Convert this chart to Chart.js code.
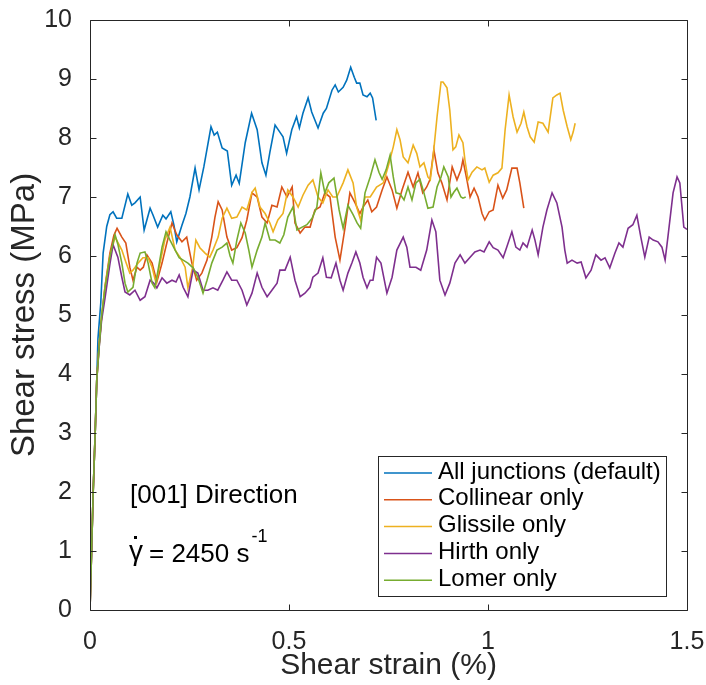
<!DOCTYPE html>
<html lang="en">
<head>
    <meta charset="UTF-8">
    <title>Shear stress vs shear strain</title>
    <style>
        body {
            margin: 0;
            background-color: #ffffff;
        }
        #chart {
            display: block;
        }
    </style>
</head>
<body>
<canvas id="chart" width="706" height="685"></canvas>

<script src="https://cdn.jsdelivr.net/npm/chart.js"></script>
<script>
    // values: [shear strain (%), shear stress (MPa)]
    const allJunctions = [
        [0, 0], [0.004, 1.0], [0.008, 2.0], [0.013, 3.0], [0.017, 3.9], [0.02, 4.6], [0.027, 5.2], [0.033, 6.05],
        [0.042, 6.5], [0.05, 6.7], [0.058, 6.75], [0.067, 6.64], [0.08, 6.64], [0.095, 7.05], [0.105, 6.86],
        [0.113, 6.9], [0.126, 7.0], [0.136, 6.44], [0.151, 6.81], [0.158, 6.7], [0.17, 6.49], [0.183, 6.69],
        [0.191, 6.63], [0.203, 6.75], [0.211, 6.52], [0.218, 6.24], [0.231, 6.52], [0.241, 6.72], [0.251, 7.0],
        [0.264, 7.49], [0.274, 7.12], [0.286, 7.51], [0.304, 8.19], [0.312, 8.05], [0.32, 8.1], [0.332, 7.83],
        [0.345, 7.78], [0.356, 7.2], [0.367, 7.37], [0.375, 7.23], [0.39, 7.92], [0.406, 8.42], [0.42, 8.14],
        [0.432, 7.58], [0.442, 7.37], [0.452, 7.76], [0.465, 8.22], [0.477, 8.1], [0.485, 8.02], [0.494, 7.74],
        [0.507, 8.14], [0.519, 8.36], [0.526, 8.17], [0.535, 8.42], [0.548, 8.68], [0.557, 8.44], [0.573, 8.17],
        [0.586, 8.42], [0.594, 8.5], [0.608, 8.81], [0.616, 8.9], [0.624, 8.78], [0.636, 8.86], [0.645, 8.98],
        [0.655, 9.2], [0.664, 9.03], [0.67, 8.93], [0.678, 8.93], [0.686, 8.73], [0.696, 8.7], [0.704, 8.76],
        [0.71, 8.68], [0.719, 8.3]
    ];
    const collinearOnly = [
        [0, 0], [0.004, 1.0], [0.008, 2.0], [0.013, 3.0], [0.017, 3.9], [0.023, 4.5], [0.029, 4.95], [0.038, 5.5],
        [0.05, 6.05], [0.06, 6.35], [0.068, 6.47], [0.08, 6.32], [0.09, 6.22], [0.1, 5.81], [0.108, 5.59],
        [0.118, 5.81], [0.126, 5.76], [0.134, 5.81], [0.143, 6.02], [0.156, 5.88], [0.168, 5.56], [0.181, 5.88],
        [0.193, 6.22], [0.206, 6.56], [0.218, 6.36], [0.231, 6.24], [0.243, 6.32], [0.256, 5.88], [0.268, 5.59],
        [0.281, 5.71], [0.294, 5.93], [0.306, 6.32], [0.314, 6.66], [0.322, 6.92], [0.332, 6.78], [0.344, 6.32],
        [0.356, 6.1], [0.369, 6.14], [0.382, 6.31], [0.394, 6.61], [0.407, 7.07], [0.42, 7.0], [0.432, 6.66],
        [0.445, 6.56], [0.457, 6.86], [0.47, 6.83], [0.482, 7.17], [0.495, 7.0], [0.508, 7.17], [0.515, 6.56],
        [0.528, 6.39], [0.54, 6.49], [0.553, 6.49], [0.565, 6.78], [0.578, 6.83], [0.59, 7.07], [0.603, 7.0],
        [0.616, 6.32], [0.628, 5.93], [0.641, 6.49], [0.653, 7.07], [0.666, 6.9], [0.678, 6.72], [0.686, 6.83],
        [0.698, 6.95], [0.708, 6.75], [0.72, 6.83], [0.734, 7.12], [0.746, 7.34], [0.759, 7.12], [0.771, 6.81],
        [0.784, 7.12], [0.799, 7.42], [0.812, 7.17], [0.824, 7.41], [0.836, 7.07], [0.846, 7.17], [0.854, 7.29],
        [0.864, 7.8], [0.874, 7.41], [0.884, 7.24], [0.897, 6.95], [0.91, 7.51], [0.922, 7.29], [0.932, 7.46],
        [0.937, 7.63], [0.947, 7.29], [0.955, 7.0], [0.965, 7.15], [0.975, 7.0], [0.985, 6.72], [0.992, 6.61],
        [1.003, 6.75], [1.013, 6.78], [1.025, 7.2], [1.037, 6.98], [1.047, 7.12], [1.06, 7.49], [1.073, 7.49],
        [1.08, 7.24], [1.09, 6.81]
    ];
    const glissileOnly = [
        [0, 0], [0.004, 1.0], [0.008, 2.0], [0.013, 3.0], [0.017, 3.9], [0.023, 4.5], [0.029, 4.95], [0.038, 5.5],
        [0.05, 6.0], [0.063, 6.32], [0.08, 6.1], [0.09, 5.9], [0.1, 5.71], [0.108, 5.76], [0.121, 5.88],
        [0.133, 5.97], [0.146, 5.97], [0.156, 5.81], [0.166, 5.54], [0.176, 5.88], [0.188, 6.27], [0.201, 6.49],
        [0.214, 6.1], [0.226, 5.98], [0.239, 5.81], [0.246, 5.46], [0.258, 5.81], [0.266, 6.27], [0.276, 6.14],
        [0.289, 6.05], [0.301, 5.98], [0.309, 6.1], [0.322, 6.32], [0.332, 6.64], [0.344, 6.81], [0.356, 6.64],
        [0.369, 6.66], [0.382, 6.83], [0.394, 6.78], [0.407, 7.08], [0.415, 7.15], [0.427, 6.83], [0.44, 6.72],
        [0.452, 6.56], [0.46, 6.41], [0.472, 6.61], [0.485, 6.72], [0.497, 7.12], [0.51, 7.0], [0.523, 6.83],
        [0.535, 7.03], [0.548, 7.2], [0.56, 7.29], [0.573, 7.0], [0.585, 6.9], [0.598, 7.12], [0.61, 7.0],
        [0.62, 7.0], [0.636, 7.24], [0.648, 7.46], [0.661, 7.24], [0.67, 6.83], [0.68, 6.61], [0.691, 7.0],
        [0.704, 7.0], [0.72, 7.17], [0.737, 7.24], [0.749, 7.51], [0.762, 7.85], [0.771, 8.14], [0.779, 7.97],
        [0.787, 7.68], [0.799, 7.58], [0.812, 7.88], [0.821, 7.74], [0.829, 7.51], [0.839, 7.58], [0.849, 7.34],
        [0.855, 7.29], [0.862, 7.68], [0.872, 8.36], [0.882, 8.95], [0.887, 8.95], [0.897, 8.85], [0.904, 8.47],
        [0.912, 7.8], [0.919, 7.85], [0.927, 8.05], [0.937, 7.92], [0.942, 7.63], [0.95, 7.29], [0.96, 7.42],
        [0.972, 7.51], [0.985, 7.46], [0.992, 7.49], [1.003, 7.25], [1.013, 7.37], [1.025, 7.41], [1.035, 7.49],
        [1.043, 8.14], [1.053, 8.73], [1.063, 8.36], [1.073, 8.1], [1.083, 8.25], [1.09, 8.44], [1.098, 8.19],
        [1.106, 8.02], [1.116, 7.93], [1.126, 8.27], [1.138, 8.25], [1.151, 8.1], [1.163, 8.68], [1.173, 8.73],
        [1.181, 8.76], [1.189, 8.47], [1.199, 8.19], [1.208, 7.97], [1.214, 8.1], [1.219, 8.25]
    ];
    const hirthOnly = [
        [0, 0], [0.004, 1.0], [0.008, 2.0], [0.013, 3.0], [0.017, 3.9], [0.023, 4.45], [0.029, 4.9], [0.038, 5.3],
        [0.05, 5.86], [0.058, 6.19], [0.07, 5.98], [0.08, 5.64], [0.088, 5.39], [0.1, 5.34], [0.113, 5.42],
        [0.126, 5.25], [0.138, 5.31], [0.151, 5.59], [0.16, 5.54], [0.168, 5.46], [0.181, 5.63], [0.193, 5.54],
        [0.206, 5.59], [0.216, 5.56], [0.224, 5.68], [0.234, 5.47], [0.246, 5.31], [0.259, 5.76], [0.271, 5.71],
        [0.284, 5.42], [0.296, 5.42], [0.309, 5.46], [0.321, 5.42], [0.334, 5.59], [0.344, 5.73], [0.356, 5.59],
        [0.369, 5.59], [0.382, 5.42], [0.394, 5.17], [0.407, 5.37], [0.42, 5.71], [0.432, 5.47], [0.445, 5.31],
        [0.457, 5.42], [0.47, 5.54], [0.477, 5.76], [0.49, 5.76], [0.503, 5.98], [0.515, 5.59], [0.528, 5.31],
        [0.54, 5.37], [0.553, 5.47], [0.56, 5.64], [0.573, 5.71], [0.585, 5.97], [0.594, 5.64], [0.606, 5.63],
        [0.618, 5.88], [0.628, 5.59], [0.636, 5.42], [0.648, 5.71], [0.658, 5.88], [0.668, 6.07], [0.678, 5.88],
        [0.686, 5.64], [0.696, 5.46], [0.704, 5.59], [0.711, 5.59], [0.72, 5.98], [0.731, 5.88], [0.746, 5.37],
        [0.759, 5.64], [0.771, 6.1], [0.787, 6.32], [0.796, 6.15], [0.804, 5.81], [0.819, 5.81], [0.831, 5.76],
        [0.846, 6.1], [0.859, 6.61], [0.869, 6.41], [0.879, 5.59], [0.892, 5.34], [0.904, 5.54], [0.917, 5.88],
        [0.93, 6.02], [0.942, 5.88], [0.955, 5.98], [0.967, 6.07], [0.98, 6.1], [0.99, 6.07], [1.003, 6.24],
        [1.013, 6.14], [1.025, 6.1], [1.038, 5.97], [1.047, 6.15], [1.06, 6.41], [1.07, 6.15], [1.08, 6.1],
        [1.088, 6.22], [1.098, 6.15], [1.111, 6.44], [1.118, 6.27], [1.126, 6.02], [1.138, 6.49], [1.148, 6.78],
        [1.161, 7.07], [1.173, 6.9], [1.186, 6.49], [1.193, 6.1], [1.199, 5.88], [1.211, 5.93], [1.224, 5.88],
        [1.234, 5.9], [1.246, 5.63], [1.259, 5.76], [1.271, 6.02], [1.284, 5.93], [1.294, 5.97], [1.306, 5.8],
        [1.319, 6.05], [1.329, 6.22], [1.339, 6.15], [1.352, 6.47], [1.364, 6.53], [1.374, 6.69], [1.384, 6.32],
        [1.394, 5.98], [1.405, 6.32], [1.415, 6.27], [1.427, 6.24], [1.437, 6.15], [1.445, 5.93], [1.452, 6.32],
        [1.465, 7.07], [1.475, 7.34], [1.482, 7.24], [1.492, 6.49], [1.5, 6.45]
    ];
    const lomerOnly = [
        [0, 0], [0.004, 1.0], [0.008, 2.0], [0.013, 3.0], [0.017, 3.9], [0.023, 4.46], [0.029, 4.97], [0.038, 5.47],
        [0.05, 5.98], [0.058, 6.22], [0.063, 6.36], [0.07, 6.2], [0.08, 5.88], [0.088, 5.54], [0.095, 5.39],
        [0.108, 5.47], [0.118, 5.88], [0.126, 6.05], [0.138, 6.07], [0.146, 5.88], [0.156, 5.54], [0.163, 5.46],
        [0.171, 5.76], [0.181, 6.15], [0.191, 6.41], [0.201, 6.27], [0.214, 6.1], [0.224, 5.97], [0.234, 5.93],
        [0.246, 5.88], [0.259, 5.8], [0.271, 5.64], [0.284, 5.37], [0.294, 5.59], [0.306, 5.88], [0.319, 6.1],
        [0.332, 6.15], [0.344, 6.22], [0.352, 6.0], [0.359, 5.88], [0.369, 6.27], [0.379, 6.56], [0.39, 6.39],
        [0.399, 6.1], [0.407, 5.81], [0.42, 6.1], [0.432, 6.32], [0.44, 6.56], [0.452, 6.27], [0.465, 6.27],
        [0.477, 6.22], [0.487, 6.36], [0.497, 6.66], [0.51, 6.83], [0.52, 6.44], [0.533, 6.49], [0.545, 6.53],
        [0.558, 6.64], [0.57, 6.83], [0.58, 7.41], [0.59, 7.07], [0.6, 7.24], [0.613, 7.32], [0.626, 6.78],
        [0.636, 6.47], [0.648, 6.86], [0.661, 6.7], [0.671, 6.56], [0.68, 6.47], [0.691, 7.07], [0.704, 7.34],
        [0.716, 7.63], [0.726, 7.42], [0.734, 7.3], [0.744, 7.46], [0.754, 7.71], [0.762, 7.34], [0.769, 7.07],
        [0.779, 7.05], [0.789, 6.95], [0.799, 7.17], [0.809, 6.95], [0.819, 7.24], [0.829, 7.3], [0.839, 7.07],
        [0.849, 6.81], [0.862, 6.83], [0.872, 7.17], [0.882, 7.34], [0.889, 7.51], [0.9, 7.34], [0.907, 7.0],
        [0.914, 7.08], [0.922, 7.15], [0.932, 7.0], [0.937, 6.98], [0.944, 7.0]
    ];

    const seriesNames = ['All junctions (default)', 'Collinear only', 'Glissile only', 'Hirth only', 'Lomer only'];
    const seriesData = [allJunctions, collinearOnly, glissileOnly, hirthOnly, lomerOnly];
    const seriesColors = ['#0072BD', '#D95319', '#EDB120', '#7E2F8E', '#77AC30'];

    const xTicks = [0, 0.5, 1, 1.5];
    const yTicks = [0, 1, 2, 3, 4, 5, 6, 7, 8, 9, 10];
    const xTitle = 'Shear strain (%)';
    const yTitle = 'Shear stress (MPa)';
    const noteDirection = '[001] Direction';
    const noteRate = '= 2450 s';

    const fontFamily = '"Liberation Sans", Arial, Helvetica, sans-serif';
    const axisColor = '#262626';

    // box, inward ticks, legend and text notes drawn on top of the lines
    const matlabStyle = {
        id: 'matlabStyle',
        afterDraw(chart) {
            const ctx = chart.ctx;
            const area = chart.chartArea;
            const xs = chart.scales.x;
            const ys = chart.scales.y;
            const left = Math.round(area.left) + 0.5;
            const right = Math.round(area.right) + 0.5;
            const top = Math.round(area.top) + 0.5;
            const bottom = Math.round(area.bottom) + 0.5;
            const tickLen = 6;

            ctx.save();
            ctx.strokeStyle = axisColor;
            ctx.lineWidth = 1;
            ctx.beginPath();
            ctx.rect(left, top, right - left, bottom - top);
            xTicks.forEach(v => {
                const px = Math.round(xs.getPixelForValue(v)) + 0.5;
                ctx.moveTo(px, bottom);
                ctx.lineTo(px, bottom - tickLen);
                ctx.moveTo(px, top);
                ctx.lineTo(px, top + tickLen);
            });
            yTicks.forEach(v => {
                const py = Math.round(ys.getPixelForValue(v)) + 0.5;
                ctx.moveTo(left, py);
                ctx.lineTo(left + tickLen, py);
                ctx.moveTo(right, py);
                ctx.lineTo(right - tickLen, py);
            });
            ctx.stroke();

            // legend
            const lx = 378.5, ly = 456.5, lw = 288, lh = 140;
            ctx.fillStyle = '#ffffff';
            ctx.fillRect(lx, ly, lw, lh);
            ctx.strokeRect(lx, ly, lw, lh);
            ctx.font = '24px ' + fontFamily;
            ctx.textAlign = 'left';
            ctx.textBaseline = 'alphabetic';
            chart.data.datasets.forEach((ds, i) => {
                const rowY = 473 + i * 26.8;
                ctx.strokeStyle = ds.borderColor;
                ctx.lineWidth = 1.5;
                ctx.beginPath();
                ctx.moveTo(384, rowY);
                ctx.lineTo(432, rowY);
                ctx.stroke();
                ctx.fillStyle = '#000000';
                ctx.fillText(ds.label, 438, rowY + 5.5);
            });

            // notes
            ctx.fillStyle = '#000000';
            ctx.font = '26px ' + fontFamily;
            ctx.fillText(noteDirection, 130, 503);
            ctx.fillText(noteRate, 149, 562);
            const supX = 149 + ctx.measureText(noteRate).width + 2;
            ctx.font = '28px ' + fontFamily;
            ctx.fillText('\u03b3', 129, 560);
            ctx.fillRect(134, 536, 3, 3);
            ctx.font = '18px ' + fontFamily;
            ctx.fillText('-1', supX, 542);
            ctx.restore();
        }
    };

    new Chart(document.getElementById('chart'), {
        type: 'line',
        data: {
            datasets: seriesData.map((pts, i) => ({
                label: seriesNames[i],
                data: pts.map(p => ({x: p[0], y: p[1]})),
                borderColor: seriesColors[i],
                backgroundColor: seriesColors[i],
                borderWidth: 1.6,
                pointRadius: 0,
                tension: 0,
                fill: false,
                order: seriesData.length - i
            }))
        },
        options: {
            responsive: false,
            animation: false,
            events: [],
            layout: {
                padding: {top: 20, right: 19, left: 0, bottom: 0}
            },
            plugins: {
                legend: {display: false},
                tooltip: {enabled: false}
            },
            scales: {
                x: {
                    type: 'linear',
                    min: 0,
                    max: 1.5,
                    afterBuildTicks: scale => {
                        scale.ticks = xTicks.map(v => ({value: v}));
                    },
                    afterFit: scale => {
                        scale.height = 75;
                        scale.paddingLeft = 0;
                        scale.paddingRight = 0;
                    },
                    grid: {display: false},
                    border: {display: false},
                    ticks: {
                        color: axisColor,
                        padding: 9,
                        maxRotation: 0,
                        callback: value => String(value),
                        font: {family: fontFamily, size: 25}
                    },
                    title: {
                        display: true,
                        text: xTitle,
                        color: axisColor,
                        padding: {top: 0, bottom: 1},
                        font: {family: fontFamily, size: 30}
                    }
                },
                y: {
                    type: 'linear',
                    min: 0,
                    max: 10,
                    afterBuildTicks: scale => {
                        scale.ticks = yTicks.map(v => ({value: v}));
                    },
                    afterFit: scale => {
                        scale.width = 90;
                        scale.paddingTop = 0;
                        scale.paddingBottom = 0;
                    },
                    grid: {display: false},
                    border: {display: false},
                    ticks: {
                        color: axisColor,
                        padding: 10,
                        font: {family: fontFamily, size: 25}
                    },
                    title: {
                        display: true,
                        text: yTitle,
                        color: axisColor,
                        padding: {top: 5, bottom: 0},
                        font: {family: fontFamily, size: 33}
                    }
                }
            }
        },
        plugins: [matlabStyle]
    });
</script>
</body>
</html>
